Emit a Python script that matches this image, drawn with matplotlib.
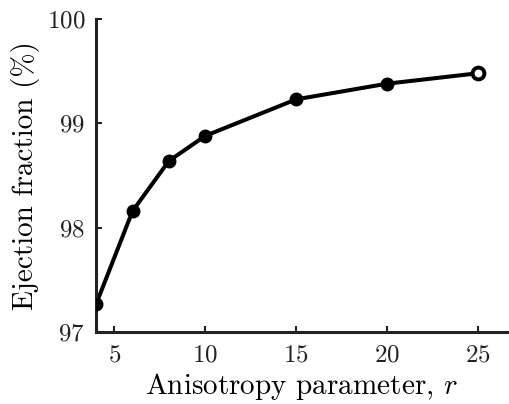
import numpy as np
import matplotlib
matplotlib.use("Agg")
import matplotlib.pyplot as plt

plt.rcParams['font.family'] = 'serif'
plt.rcParams['font.serif'] = ['cmr10']
plt.rcParams['mathtext.fontset'] = 'cm'
plt.rcParams['axes.formatter.use_mathtext'] = True

# data
r_values = [4, 6, 8, 10, 15, 20, 25]
ejection = [97.27, 98.16, 98.64, 98.88, 99.23, 99.38, 99.48]
xticks = [5, 10, 15, 20, 25]
yticks = [97, 98, 99, 100]

fig = plt.figure(figsize=(5.09, 4.04), dpi=100)
ax = fig.add_axes([0.189, 0.178, 0.807, 0.775])

ax.plot(r_values, ejection, color='black', lw=2.9, zorder=2)
ax.plot(r_values[:-1], ejection[:-1], 'o', color='black', ms=9, zorder=3)
ax.plot(r_values[-1:], ejection[-1:], 'o', mfc='white', mec='black', mew=2.8, ms=8.5, zorder=3)

ax.set_xlim(4, 26.6)
ax.set_ylim(97, 100)
ax.set_xticks(xticks)
ax.set_yticks(yticks)

for s in ['top', 'right']:
    ax.spines[s].set_visible(False)
for s in ['left', 'bottom']:
    ax.spines[s].set_linewidth(2.2)
    ax.spines[s].set_color('#222222')

ax.tick_params(direction='in', length=4, width=1.5, labelsize=18, colors='#222222')
ax.tick_params(axis='x', pad=9)
ax.tick_params(axis='y', pad=8)
ax.set_xlabel(r'Anisotropy parameter, $r$', fontsize=21, labelpad=3)
ax.set_ylabel('Ejection fraction (%)', fontsize=21, labelpad=5)

fig.savefig('out.png', dpi=100)
